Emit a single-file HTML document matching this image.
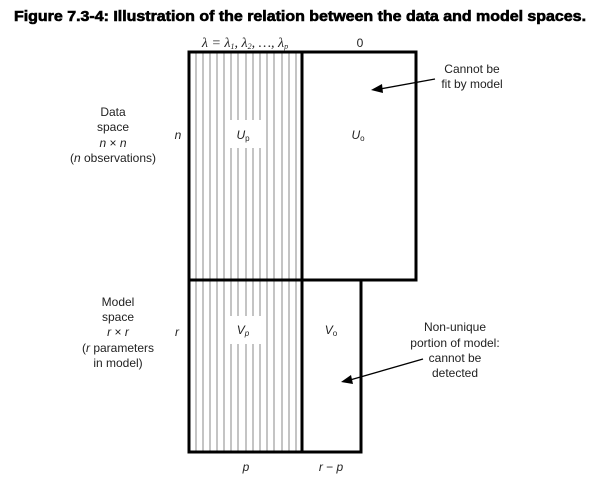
<!DOCTYPE html>
<html><head><meta charset="utf-8"><style>
html,body{margin:0;padding:0;background:#fff;}
svg{display:block;}
text{font-family:"Liberation Sans",sans-serif;fill:#222;}
.t{font-size:12px;text-anchor:middle;}
.i{font-style:italic;}
</style></head><body>
<svg width="600" height="481" viewBox="0 0 600 481" xmlns="http://www.w3.org/2000/svg">
<text x="300" y="21" style="font-size:14.5px;font-weight:bold;fill:#000;stroke:#000;stroke-width:0.6" text-anchor="middle" textLength="572" lengthAdjust="spacingAndGlyphs">Figure 7.3-4: Illustration of the relation between the data and model spaces.</text>
<g stroke="#888" stroke-width="1">
<line x1="196" y1="52" x2="196" y2="452"/><line x1="203" y1="52" x2="203" y2="452"/><line x1="210" y1="52" x2="210" y2="452"/><line x1="217" y1="52" x2="217" y2="452"/><line x1="224" y1="52" x2="224" y2="452"/>
<line x1="231" y1="52" x2="231" y2="120"/><line x1="231" y1="148" x2="231" y2="316"/><line x1="231" y1="344" x2="231" y2="452"/>
<line x1="238" y1="52" x2="238" y2="120"/><line x1="238" y1="148" x2="238" y2="316"/><line x1="238" y1="344" x2="238" y2="452"/>
<line x1="246" y1="52" x2="246" y2="120"/><line x1="246" y1="148" x2="246" y2="316"/><line x1="246" y1="344" x2="246" y2="452"/>
<line x1="253" y1="52" x2="253" y2="120"/><line x1="253" y1="148" x2="253" y2="316"/><line x1="253" y1="344" x2="253" y2="452"/>
<line x1="260" y1="52" x2="260" y2="120"/><line x1="260" y1="148" x2="260" y2="316"/><line x1="260" y1="344" x2="260" y2="452"/>
<line x1="267" y1="52" x2="267" y2="452"/><line x1="274" y1="52" x2="274" y2="452"/><line x1="282" y1="52" x2="282" y2="452"/><line x1="289" y1="52" x2="289" y2="452"/><line x1="296" y1="52" x2="296" y2="452"/>
</g>
<g stroke="#000" stroke-width="3" fill="none">
<rect x="189" y="52" width="227" height="228"/>
<polyline points="189,280 189,452 361,452 361,280"/>
<line x1="302" y1="52" x2="302" y2="452"/>
</g>
<text x="245" y="47" class="t i" style="font-family:'Liberation Serif',serif;font-size:14px">λ = λ<tspan font-size="8" dy="2">1</tspan><tspan dy="-2">, λ</tspan><tspan font-size="8" dy="2">2</tspan><tspan dy="-2">, …,  λ</tspan><tspan font-size="8" dy="2">p</tspan></text>
<text x="360" y="47" class="t">0</text>
<text x="113" y="116" class="t">Data</text>
<text x="113" y="131" class="t">space</text>
<text x="113" y="147" class="t"><tspan class="i">n</tspan> × <tspan class="i">n</tspan></text>
<text x="113" y="162" class="t">(<tspan class="i">n</tspan> observations)</text>
<text x="178" y="139" class="t i">n</text>
<text x="243" y="139" class="t i">U<tspan font-size="8" font-style="normal" dy="2">p</tspan></text>
<text x="358" y="139" class="t i">U<tspan font-size="8" font-style="normal" dy="2">o</tspan></text>
<text x="472" y="73" class="t">Cannot be</text>
<text x="472" y="88" class="t">fit by model</text>
<line x1="435" y1="79" x2="380" y2="89" stroke="#000" stroke-width="1.3"/>
<polygon points="371,90 382,84 383,93" fill="#000"/>
<text x="118" y="306" class="t">Model</text>
<text x="118" y="321" class="t">space</text>
<text x="118" y="336" class="t"><tspan class="i">r</tspan> × <tspan class="i">r</tspan></text>
<text x="118" y="352" class="t">(<tspan class="i">r</tspan> parameters</text>
<text x="118" y="367" class="t">in model)</text>
<text x="177" y="336" class="t i">r</text>
<text x="243" y="334" class="t i">V<tspan font-size="8" dy="2">p</tspan></text>
<text x="331" y="334" class="t i">V<tspan font-size="8" font-style="normal" dy="2">o</tspan></text>
<text x="455" y="331" class="t">Non-unique</text>
<text x="455" y="347" class="t">portion of model:</text>
<text x="455" y="362" class="t">cannot be</text>
<text x="455" y="377" class="t">detected</text>
<line x1="423" y1="359" x2="350" y2="380" stroke="#000" stroke-width="1.3"/>
<polygon points="341,382 351,375 353,384" fill="#000"/>
<text x="246" y="471" class="t i">p</text>
<text x="331" y="471" class="t"><tspan class="i">r</tspan> − <tspan class="i">p</tspan></text>
</svg>
</body></html>
